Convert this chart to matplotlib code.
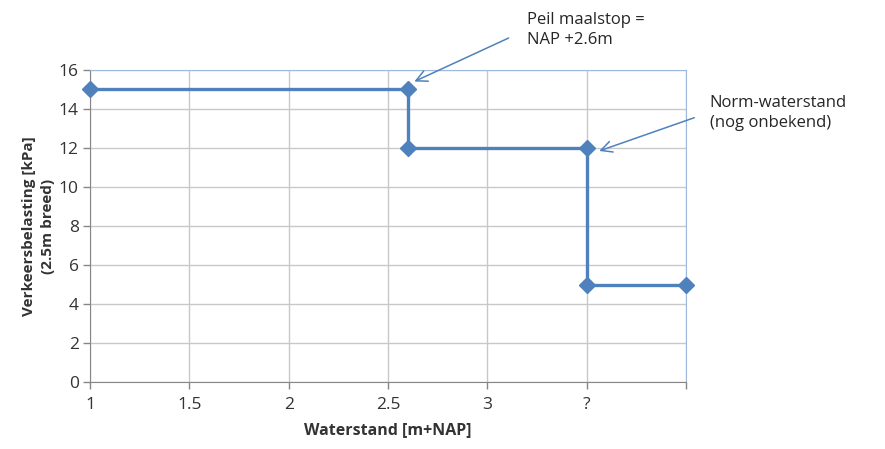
import matplotlib
matplotlib.use("Agg")
import matplotlib.pyplot as plt

# ---- Data -------------------------------------------------------------------
waterstand = [1.0, 2.6, 2.6, 3.5, 3.5, 4.0]
belasting  = [15, 15, 12, 12, 5, 5]
xticks      = [1, 1.5, 2, 2.5, 3, 3.5, 4]
xticklabels = ["1", "1.5", "2", "2.5", "3", "?", ""]
yticks      = [0, 2, 4, 6, 8, 10, 12, 14, 16]

BLUE  = "#4F81BD"
LBLUE = "#9DB9DC"
GRID  = "#C8C8C8"
AXC   = "#868686"
TXT   = "#333333"

plt.rcParams["font.family"] = ["Open Sans", "DejaVu Sans"]

fig = plt.figure(figsize=(8.85, 4.49), dpi=100)
ax = fig.add_axes([0.1017, 0.1492, 0.6734, 0.6949])

ax.plot(waterstand, belasting, color=BLUE, lw=2.4, marker="D", ms=8.5,
        zorder=4, clip_on=False)

ax.set_xlim(1, 4)
ax.set_ylim(0, 16)
ax.set_xticks(xticks)
ax.set_xticklabels(xticklabels)
ax.set_yticks(yticks)
ax.grid(True, color=GRID, lw=1)
ax.set_axisbelow(True)

for s in ["left", "bottom"]:
    ax.spines[s].set_color(AXC)
for s in ["top", "right"]:
    ax.spines[s].set_color(LBLUE)
ax.tick_params(colors=AXC, labelcolor=TXT, labelsize=12.5, length=5, width=1)
ax.tick_params(axis="x", pad=6)
ax.tick_params(axis="y", pad=3)

ax.set_xlabel("Waterstand [m+NAP]", fontsize=11.5, fontweight="bold",
              color=TXT, labelpad=6)
ax.set_ylabel("Verkeersbelasting [kPa]\n(2.5m breed)", fontsize=11,
              fontweight="bold", color=TXT, labelpad=3, linespacing=1.4)

# ---- Annotations ------------------------------------------------------------
ax.annotate("", xy=(2.62, 15.35), xytext=(3.12, 17.7),
            arrowprops=dict(arrowstyle="->", color=BLUE, lw=1.1,
                            mutation_scale=20),
            annotation_clip=False)
ax.text(3.20, 18.97, "Peil maalstop =\nNAP +2.6m", fontsize=12, color="#262626",
        ha="left", va="top", linespacing=1.35, clip_on=False)

ax.annotate("", xy=(3.55, 11.8), xytext=(4.055, 13.6),
            arrowprops=dict(arrowstyle="->", color=BLUE, lw=1.1,
                            mutation_scale=20),
            annotation_clip=False)
ax.text(4.12, 14.72, "Norm-waterstand\n(nog onbekend)", fontsize=12,
        color="#262626", ha="left", va="top", linespacing=1.35, clip_on=False)

fig.savefig("out.png", dpi=100)
